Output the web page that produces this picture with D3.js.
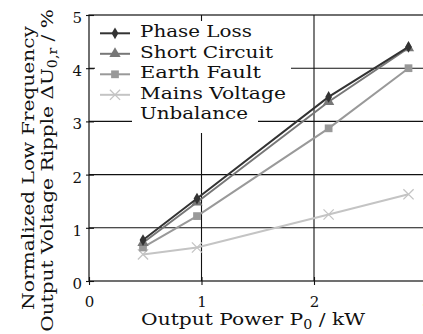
<!DOCTYPE html>
<html><head><meta charset="utf-8">
<script src="https://cdn.jsdelivr.net/npm/d3@7"></script>
<style>body{margin:0;background:#fff}svg{display:block}text{font-family:"DejaVu Serif",serif;fill:#111}</style>
</head><body><svg id="c" width="423" height="334"></svg>
<script>
const xValues = [0.48, 0.96, 2.13, 2.84];
const phaseLoss = [0.77, 1.55, 3.46, 4.40];
const shortCircuit = [0.72, 1.48, 3.37, 4.38];
const earthFault = [0.63, 1.22, 2.87, 4.00];
const mainsUnbalance = [0.50, 0.63, 1.25, 1.63];
const xTicks = [0, 1, 2, 3];
const yTicks = [0, 1, 2, 3, 4, 5];
const seriesNames = ["Phase Loss", "Short Circuit", "Earth Fault", "Mains Voltage"];
const seriesNameCont = "Unbalance";

const series = [
  {name: seriesNames[0], values: phaseLoss, color: "#333", sym: "diamond", w: 112},
  {name: seriesNames[1], values: shortCircuit, color: "#777", sym: "triangle", w: 133},
  {name: seriesNames[2], values: earthFault, color: "#999", sym: "square", w: 121},
  {name: seriesNames[3], values: mainsUnbalance, color: "#c4c4c4", sym: "x", w: 146}
];

const FS = 17;
const svg = d3.select("#c");
const x = d3.scaleLinear().domain([0, 3]).range([89, 426.5]);
const y = d3.scaleLinear().domain([0, 5]).range([281, 15]);

const g = svg.append("g");
g.selectAll(".gx").data([1, 2]).enter().append("line")
  .attr("x1", d => x(d)).attr("x2", d => x(d)).attr("y1", y(0)).attr("y2", y(5))
  .attr("stroke", "#111").attr("stroke-width", 1.1);
g.selectAll(".gy").data([1, 2, 3, 4]).enter().append("line")
  .attr("x1", x(0)).attr("x2", x(3)).attr("y1", d => y(d)).attr("y2", d => y(d))
  .attr("stroke", "#111").attr("stroke-width", 1.1);
g.append("rect").attr("x", x(0)).attr("y", y(5)).attr("width", x(3) - x(0)).attr("height", y(0) - y(5))
  .attr("fill", "none").attr("stroke", "#111").attr("stroke-width", 1.2);

const xAxis = g.append("g").attr("transform", `translate(0,${y(0)})`)
  .call(d3.axisBottom(x).tickValues(xTicks).tickFormat(d3.format("d")).tickSizeInner(4).tickSizeOuter(0));
const yAxis = g.append("g").attr("transform", `translate(${x(0)},0)`)
  .call(d3.axisLeft(y).tickValues(yTicks).tickFormat(d3.format("d")).tickSizeInner(4).tickSizeOuter(0));
[xAxis, yAxis].forEach(a => {
  a.attr("font-family", null);
  a.select(".domain").remove();
  a.selectAll(".tick line").attr("stroke", "#111").attr("stroke-width", 1.1);
  a.selectAll(".tick text").attr("font-size", 15).attr("fill", "#111");
});
xAxis.selectAll(".tick line").attr("y1", -4).attr("y2", 4);
xAxis.selectAll(".tick text").attr("y", 15).attr("dy", "0.71em");
yAxis.selectAll(".tick line").attr("x1", -3).attr("x2", 5);
yAxis.selectAll(".tick text").attr("x", -7).attr("dy", "0.5em");

const line = d3.line().x((d, i) => x(xValues[i])).y(d => y(d));
function marker(sel, sym, color, cx, cy) {
  if (sym === "diamond") {
    sel.append("path").attr("d", d3.symbol(d3.symbolDiamond, 40)()).attr("transform", `translate(${cx},${cy})`).attr("fill", color);
  } else if (sym === "triangle") {
    sel.append("path").attr("d", d3.symbol(d3.symbolTriangle, 55)()).attr("transform", `translate(${cx},${cy})`).attr("fill", color);
  } else if (sym === "square") {
    sel.append("path").attr("d", d3.symbol(d3.symbolSquare, 60)()).attr("transform", `translate(${cx},${cy})`).attr("fill", color);
  } else {
    sel.append("path").attr("d", d3.symbol(d3.symbolX, 70)()).attr("transform", `translate(${cx},${cy})`).attr("fill", "none").attr("stroke", color).attr("stroke-width", 1.3);
  }
}
series.slice().reverse().forEach(s => {
  const sg = g.append("g");
  sg.append("path").attr("d", line(s.values)).attr("fill", "none").attr("stroke", s.color).attr("stroke-width", 2);
  s.values.forEach((v, i) => marker(sg, s.sym, s.color, x(xValues[i]), y(v)));
});

// text stretched horizontally to a given width
function stext(sel, tx, ty, rot, anchor, width, build) {
  const t = sel.append("text").attr("text-anchor", anchor).attr("font-size", FS);
  build(t);
  const w = t.node().getComputedTextLength();
  const k = width / w;
  t.attr("transform", `translate(${tx},${ty})${rot ? " rotate(" + rot + ")" : ""} scale(${k},1)`);
  return t;
}

const lg = g.append("g");
lg.append("rect").attr("x", 95).attr("y", 21).attr("width", 196).attr("height", 90).attr("fill", "#fff");
lg.append("rect").attr("x", 132).attr("y", 104).attr("width", 126).attr("height", 29).attr("fill", "#fff");
series.forEach((s, i) => {
  const ly = 33.3 + i * 20.5;
  lg.append("line").attr("x1", 100).attr("x2", 130).attr("y1", ly).attr("y2", ly).attr("stroke", s.color).attr("stroke-width", 2);
  marker(lg, s.sym, s.color, 115, ly);
  stext(lg, 140, ly + 4, 0, "start", s.w, t => t.text(s.name));
});
stext(lg, 140, 33.3 + 4 * 20.5 + 4, 0, "start", 108, t => t.text(seriesNameCont));

stext(svg, 253, 325, 0, "middle", 224, t => {
  t.append("tspan").text("Output Power P");
  t.append("tspan").attr("font-size", 12).attr("dy", 4).text("0");
  t.append("tspan").attr("dy", -4).text(" / kW");
});

stext(svg, 34, 168, -90, "middle", 284, t => t.text("Normalized Low Frequency"));
stext(svg, 53, 170.5, -90, "middle", 323, t => {
  t.append("tspan").text("Output Voltage Ripple ΔU");
  t.append("tspan").attr("font-size", 12).attr("dy", 4).text("0,r");
  t.append("tspan").attr("dy", -4).text(" / %");
});
</script></body></html>
